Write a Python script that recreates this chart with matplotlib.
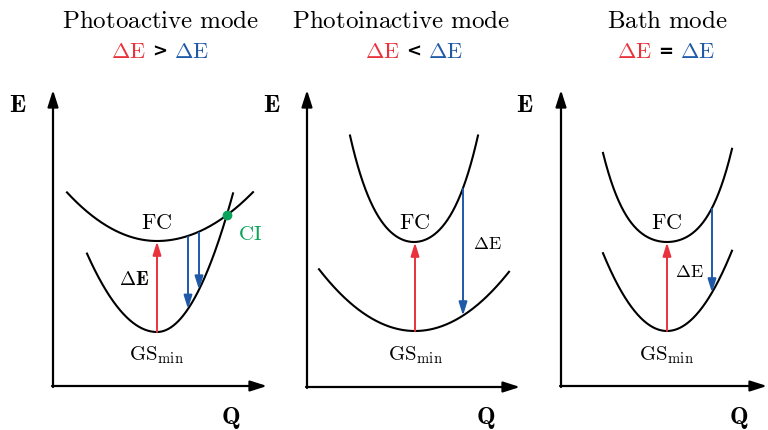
import numpy as np
import matplotlib
matplotlib.use("Agg")
import matplotlib.pyplot as plt

plt.rcParams['mathtext.fontset'] = 'cm'

# ---------------- data (pixel space of the schematic) ----------------
titles = ["Photoactive mode", "Photoinactive mode", "Bath mode"]
relations = [">", "<", "="]
title_x = [160, 401, 667]
relation_x = [160, 414, 666]

# axes of each panel: origin x, origin y, top of E axis, tip of Q axis
axis_x0 = [53, 307, 561]
axis_y0 = [386, 387, 386]
axis_top = [90, 90, 90]
axis_right = [267, 520, 767]
E_label_x = [18, 272, 525]
Q_label_x = [231, 486, 739]

# potential curves: vertex x, vertex y, left curvature, right curvature, quartic term, x range
upper_x0 = [157, 414, 667]
upper_y0 = [241, 242, 242]
upper_aL = [0.0060, 0.0174, 0.0120]
upper_aR = [0.0053, 0.0174, 0.0120]
upper_c4 = [0.0, 2.1e-6, 2.38e-6]
upper_xmin = [67, 350, 603]
upper_xmax = [253, 478, 732]

lower_x0 = [157, 415, 667]
lower_y0 = [332, 331, 331]
lower_aL = [0.016, 0.0067, 0.019]
lower_aR = [0.024, 0.0067, 0.019]
lower_c4 = [0.0, 0.0, 0.0]
lower_xmin = [87, 319, 603]
lower_xmax = [233, 509, 732]

# blue emission arrows (x positions)
blue_x = [[188, 199], [463], [712]]

# labels
FC_x = [157, 415, 667]
GS_x = [156, 415, 666]
dE_x = [134, 487, 689]
dE_y = [285, 249, 277]
dE_bold = [True, False, False]

RED = '#e9323c'
BLUE = '#1f59a8'
GREEN = '#0aa35a'


def curve(x, x0, y0, aL, aR, c4):
    dx = x - x0
    a = np.where(dx < 0, aL, aR)
    return y0 - (a * dx**2 + c4 * dx**4)


fig = plt.figure(figsize=(7.68, 4.30), dpi=100)
ax = fig.add_axes([0, 0, 1, 1])
ax.set_xlim(0, 768)
ax.set_ylim(430, 0)
ax.axis('off')


def arrow(x1, y1, x2, y2, color, lw, hl, hw):
    ax.annotate('', xy=(x2, y2), xytext=(x1, y1),
                arrowprops=dict(arrowstyle=f'-|>,head_length={hl},head_width={hw}',
                                color=color, lw=lw, shrinkA=0, shrinkB=0,
                                mutation_scale=10))


for i in range(3):
    # titles
    ax.text(title_x[i], 28, r'$\mathrm{' + titles[i].replace(' ', r'\ ') + '}$',
            ha='center', va='baseline', fontsize=18)
    rx = relation_x[i]
    ax.text(rx - 14, 58, r'$\Delta\mathrm{E}$', color=RED, ha='right', va='baseline', fontsize=16)
    ax.text(rx, 57, relations[i], color='black', ha='center', va='baseline',
            fontsize=13, family='DejaVu Sans', fontweight='bold')
    ax.text(rx + 14, 58, r'$\Delta\mathrm{E}$', color=BLUE, ha='left', va='baseline', fontsize=16)

    # axes
    arrow(axis_x0[i], axis_y0[i] + 1, axis_x0[i], axis_top[i], 'black', 1.6, 1.0, 0.32)
    arrow(axis_x0[i] - 1, axis_y0[i], axis_right[i], axis_y0[i], 'black', 1.6, 1.0, 0.32)
    ax.text(E_label_x[i], 112, r'$\mathbf{E}$', ha='center', va='baseline', fontsize=18)
    ax.text(Q_label_x[i], 424, r'$\mathbf{Q}$', ha='center', va='baseline', fontsize=18)

    # curves
    xu = np.linspace(upper_xmin[i], upper_xmax[i], 300)
    ax.plot(xu, curve(xu, upper_x0[i], upper_y0[i], upper_aL[i], upper_aR[i], upper_c4[i]),
            color='black', lw=1.5)
    xl = np.linspace(lower_xmin[i], lower_xmax[i], 300)
    ax.plot(xl, curve(xl, lower_x0[i], lower_y0[i], lower_aL[i], lower_aR[i], lower_c4[i]),
            color='black', lw=1.5)

    # red absorption arrow
    arrow(lower_x0[i], lower_y0[i], lower_x0[i], upper_y0[i] + 0.5, RED, 1.4, 0.8, 0.25)

    # blue emission arrows
    for bx in blue_x[i]:
        yt = float(curve(np.array(bx), upper_x0[i], upper_y0[i], upper_aL[i], upper_aR[i], upper_c4[i]))
        yb = float(curve(np.array(bx), lower_x0[i], lower_y0[i], lower_aL[i], lower_aR[i], lower_c4[i]))
        arrow(bx, yt + 1, bx, yb, BLUE, 1.4, 0.8, 0.25)

    # labels
    ax.text(FC_x[i], 229, r'$\mathrm{FC}$', ha='center', va='baseline', fontsize=16)
    ax.text(GS_x[i], 360, r'$\mathrm{GS}_{\mathrm{min}}$', ha='center', va='baseline', fontsize=15)
    lab = r'$\mathbf{\Delta E}$' if dE_bold[i] else r'$\Delta\mathrm{E}$'
    ax.text(dE_x[i], dE_y[i], lab, ha='center', va='baseline', fontsize=14 if dE_bold[i] else 13)

# conical intersection in panel 1
xs = np.linspace(upper_x0[0], upper_xmax[0], 2000)
diff = curve(xs, upper_x0[0], upper_y0[0], upper_aL[0], upper_aR[0], upper_c4[0]) - \
       curve(xs, lower_x0[0], lower_y0[0], lower_aL[0], lower_aR[0], lower_c4[0])
k = int(np.argmin(np.abs(diff)))
ci_x = xs[k]
ci_y = float(curve(np.array(ci_x), upper_x0[0], upper_y0[0], upper_aL[0], upper_aR[0], upper_c4[0]))
ax.plot([ci_x], [ci_y], 'o', color=GREEN, ms=6, zorder=5)
ax.text(238, 240, r'$\mathrm{CI}$', color=GREEN, ha='left', va='baseline', fontsize=15)

fig.savefig('out.png', dpi=100)
